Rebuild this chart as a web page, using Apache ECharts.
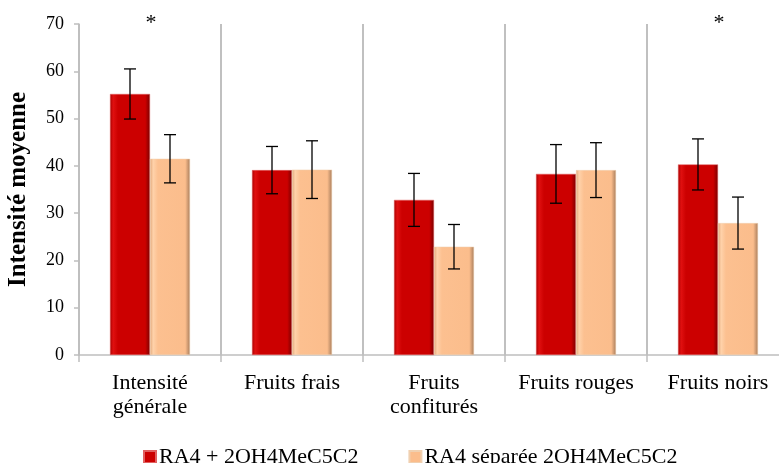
<!DOCTYPE html>
<html>
<head>
<meta charset="utf-8">
<script src="https://cdn.jsdelivr.net/npm/echarts@6/dist/echarts.min.js"></script>
<style>
html, body { margin: 0; padding: 0; background: #fff; }
#main { width: 779px; height: 463px; }
</style>
</head>
<body>
<div id="main"></div>
<script>
var categories = ['Intensité\ngénérale', 'Fruits frais', 'Fruits\nconfiturés', 'Fruits rouges', 'Fruits noirs'];
var seriesNames = ['RA4 + 2OH4MeC5C2', 'RA4 séparée 2OH4MeC5C2'];
var combined = [55.2, 39.1, 32.8, 38.3, 40.3];
var combinedErr = [5.3, 5.0, 5.6, 6.2, 5.4];
var separated = [41.5, 39.2, 22.9, 39.1, 27.9];
var separatedErr = [5.1, 6.1, 4.7, 5.8, 5.5];
var starCats = [0, 4];
var starLevel = 71;

var myChart = echarts.init(document.getElementById('main'));

var barW = 40;
var font = '"Liberation Serif", "Times New Roman", serif';

function errorSeries(values, errs, offset) {
	return {
		type: 'custom',
		silent: true,
		z: 5,
		data: values.map(function (v, i) { return [i, v - errs[i], v + errs[i]]; }),
		renderItem: function (params, api) {
			var lo = api.coord([api.value(0), api.value(1)]);
			var hi = api.coord([api.value(0), api.value(2)]);
			var x = lo[0] + offset;
			var cap = 6;
			var st = { stroke: '#000', lineWidth: 1.3 };
			return {
				type: 'group',
				children: [
					{ type: 'line', shape: { x1: x, y1: lo[1], x2: x, y2: hi[1] }, style: st },
					{ type: 'line', shape: { x1: x - cap, y1: lo[1], x2: x + cap, y2: lo[1] }, style: st },
					{ type: 'line', shape: { x1: x - cap, y1: hi[1], x2: x + cap, y2: hi[1] }, style: st }
				]
			};
		}
	};
}

var redFill = new echarts.graphic.LinearGradient(0, 0, 1, 0, [
	{ offset: 0, color: '#a80000' },
	{ offset: 0.08, color: '#e01010' },
	{ offset: 0.2, color: '#cc0000' },
	{ offset: 0.88, color: '#cc0000' },
	{ offset: 1, color: '#7a0000' }
]);
var orangeFill = new echarts.graphic.LinearGradient(0, 0, 1, 0, [
	{ offset: 0, color: '#e0a678' },
	{ offset: 0.08, color: '#ffd2aa' },
	{ offset: 0.2, color: '#fcc090' },
	{ offset: 0.88, color: '#fbbd8c' },
	{ offset: 1, color: '#a87d5c' }
]);

var option = {
	animation: false,
	grid: { left: 79, top: 24, bottom: 108, width: 710, outerBoundsMode: 'none', containLabel: false },
	legend: {
		left: 138,
		top: 441,
		itemWidth: 12,
		itemHeight: 12,
		itemGap: 50,
		data: [
			{ name: seriesNames[0], icon: 'rect', itemStyle: { color: '#cc0000' } },
			{ name: seriesNames[1], icon: 'rect', itemStyle: { color: '#fbbd8c' } }
		],
		textStyle: { fontFamily: font, fontSize: 22, color: '#000', padding: [0, 0, 0, -2] }
	},
	xAxis: {
		type: 'category',
		data: categories,
		axisLine: { lineStyle: { color: '#bfbfbf', width: 1.5 } },
		axisTick: { show: true, length: 7, lineStyle: { color: '#bfbfbf', width: 1.5 } },
		splitLine: { show: true, interval: 0, lineStyle: { color: '#c0c0c0', width: 2 } },
		axisLabel: { interval: 0, margin: 16, fontFamily: font, fontSize: 22, lineHeight: 24, color: '#000' }
	},
	yAxis: {
		type: 'value',
		min: 0, max: 70, interval: 10,
		name: 'Intensité moyenne',
		nameLocation: 'middle',
		nameGap: 48,
		nameTextStyle: { fontFamily: font, fontSize: 25, fontWeight: 'bold', color: '#000' },
		axisLine: { show: true, lineStyle: { color: '#bfbfbf', width: 1.5 } },
		axisTick: { show: true, length: 5, lineStyle: { color: '#bfbfbf', width: 1.5 } },
		splitLine: { show: false },
		axisLabel: { margin: 15, fontFamily: font, fontSize: 18, color: '#000' }
	},
	series: [
		{
			name: seriesNames[0], type: 'bar', data: combined, barWidth: barW, barGap: '0%',
			itemStyle: { color: redFill, borderColor: '#e06060', borderWidth: 0.5 }
		},
		{
			name: seriesNames[1], type: 'bar', data: separated, barWidth: barW, barGap: '0%',
			itemStyle: { color: orangeFill, borderColor: '#f0d0b0', borderWidth: 0.5 }
		},
		errorSeries(combined, combinedErr, -barW / 2),
		errorSeries(separated, separatedErr, barW / 2),
		{
			type: 'custom',
			silent: true,
			data: starCats.map(function (c) { return [c, starLevel]; }),
			renderItem: function (params, api) {
				var p = api.coord([api.value(0), api.value(1)]);
				return {
					type: 'text',
					style: {
						x: p[0] + 1, y: p[1] + 4, text: '*',
						font: '22px ' + font, fill: '#000',
						textAlign: 'center', textVerticalAlign: 'middle'
					}
				};
			},
			clip: false
		}
	]
};

myChart.setOption(option);
</script>
</body>
</html>
